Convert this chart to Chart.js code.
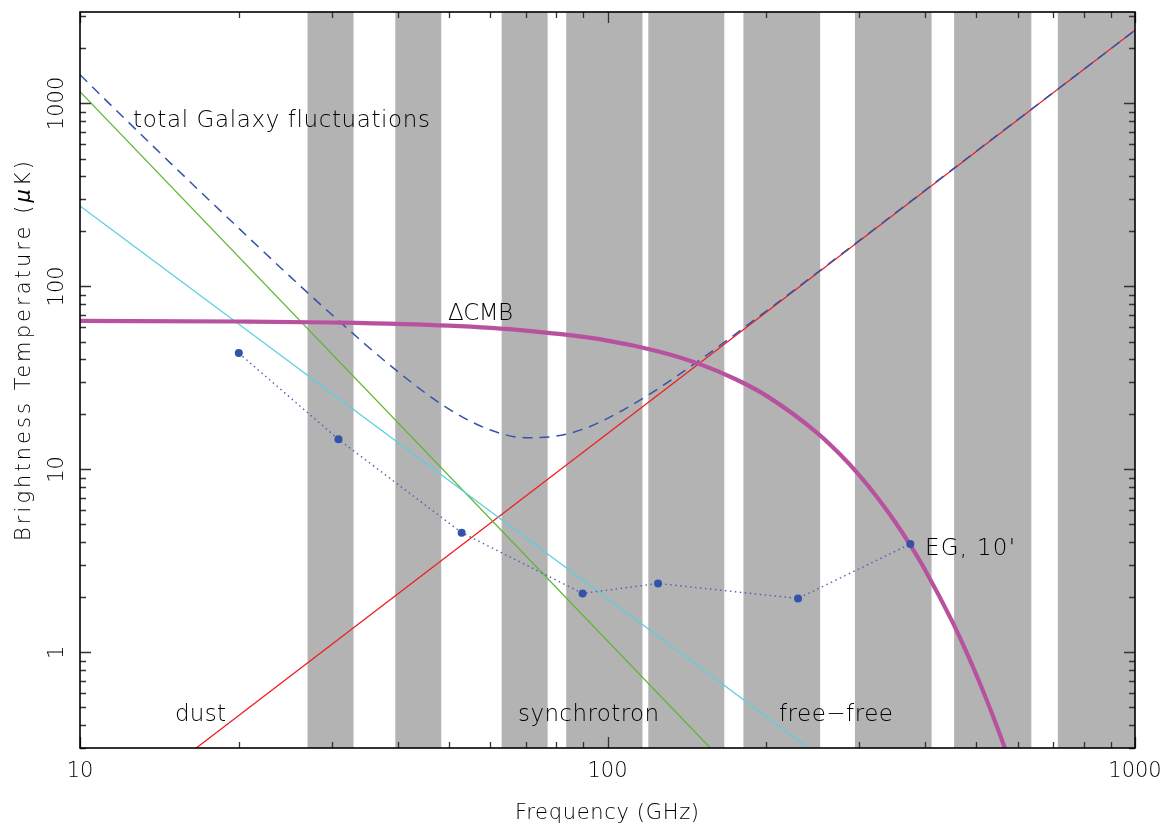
<!DOCTYPE html>
<html><head><meta charset="utf-8">
<script src="https://cdn.jsdelivr.net/npm/chart.js@4.4.0/dist/chart.umd.min.js"></script>
<style>html,body{margin:0;padding:0;background:#fff;overflow:hidden}</style>
</head><body>
<canvas id="c" width="1169" height="825"></canvas>
<script>
// ---- Frequency bands (GHz), shaded in grey ----
const bandLow  = [27, 39.6, 63, 83.5, 119.5, 181, 294.5, 454, 714];
const bandHigh = [33, 48.4, 77, 116.5, 166.5, 253, 411.5, 636, 1000];

// ---- Foreground components (GHz, brightness temperature in uK) ----
const dustFreq = [10, 1000];
const dustT    = [0.098, 2512];
const syncFreq = [10, 1000];
const syncT    = [1160, 0.00115];
const ffFreq   = [10, 1000];
const ffT      = [275, 0.0141];

// ---- Total Galaxy fluctuations (dashed) ----
const totalFreq = [10, 12, 15, 20, 25, 30, 40, 50, 60, 70, 80, 90, 100, 120, 150, 200, 300, 500, 700, 1000];
const totalT    = [1435, 857, 459, 208, 113.5, 70.2, 34.3, 21.4, 16.4, 14.9, 15.2, 16.6, 19.0, 25.7, 39.8, 73.4, 178, 548, 1147, 2512];

// ---- Delta CMB ----
const cmbFreq = [10, 20, 30, 50, 70, 100, 125, 150, 175, 200, 250, 275, 300, 325, 350, 375, 400, 450, 475, 500, 525, 550, 570];
const cmbT    = [64.8, 64.3, 63.5, 61.0, 57.3, 50.6, 44.1, 37.5, 31.1, 25.3, 15.8, 12.2, 9.3, 7.0, 5.22, 3.85, 2.82, 1.48, 1.06, 0.757, 0.537, 0.379, 0.286];

// ---- Extragalactic sources, 10' (points, dotted) ----
const egFreq = [20, 30.9, 52.9, 89.7, 124.7, 229.7, 375];
const egT    = [43.2, 14.6, 4.51, 2.10, 2.38, 1.97, 3.91];

// ---- Axis ticks / labels ----
const xTickValues = [10, 100, 1000];
const xTickLabels = ['10', '100', '1000'];
const yTickValues = [1, 10, 100, 1000];
const yTickLabels = ['1', '10', '100', '1000'];
const xTitle = 'Frequency (GHz)';
const yTitleRuns = [['Brightness Temperature (', false], ['\u03BC', true], ['K)', false]];

const pts = (xs, ys) => xs.map((x, i) => ({x: x, y: ys[i]}));

const FAM = '"DejaVu Sans", "Liberation Sans", sans-serif';
const W = '200 ';

function drawText(ctx, text, x, y, size, targetW, align) {
  ctx.font = W + size + 'px ' + FAM;
  ctx.letterSpacing = '0px';
  if (targetW) {
    const w = ctx.measureText(text).width;
    const n = [...text].length;
    if (n > 1) ctx.letterSpacing = ((targetW - w) / (n - 1)).toFixed(2) + 'px';
  }
  ctx.textAlign = 'left';
  let w2 = targetW || ctx.measureText(text).width;
  let x0 = align === 'center' ? x - w2 / 2 : x;
  ctx.fillText(text, x0, y);
  ctx.letterSpacing = '0px';
}

function drawRuns(ctx, runs, cx, y, size, targetW) {
  let total = 0, nChars = 0;
  runs.forEach(([t, it]) => {
    ctx.font = (it ? 'italic ' : '') + W + size + 'px ' + FAM;
    ctx.letterSpacing = '0px';
    total += ctx.measureText(t).width;
    nChars += [...t].length;
  });
  const ls = (targetW - total) / (nChars - 1);
  let x = cx - targetW / 2;
  ctx.textAlign = 'left';
  runs.forEach(([t, it]) => {
    ctx.font = (it ? 'italic ' : '') + W + size + 'px ' + FAM;
    ctx.letterSpacing = ls.toFixed(2) + 'px';
    ctx.fillText(t, x, y);
    x += ctx.measureText(t).width;
  });
  ctx.letterSpacing = '0px';
}

const decor = {
  id: 'decor',
  beforeDatasetsDraw(chart) {
    const {ctx, chartArea: a, scales: {x}} = chart;
    ctx.save();
    ctx.fillStyle = '#b3b3b3';
    for (let i = 0; i < bandLow.length; i++) {
      const x0 = x.getPixelForValue(bandLow[i]);
      const x1 = x.getPixelForValue(bandHigh[i]);
      ctx.fillRect(x0, a.top, x1 - x0, a.bottom - a.top);
    }
    ctx.restore();
  },
  afterDatasetsDraw(chart) {
    const {ctx, chartArea: a, scales: {x, y}} = chart;
    ctx.save();
    ctx.strokeStyle = '#333';
    ctx.lineWidth = 1.3;
    const MAJ = 11, MIN = 6;
    ctx.beginPath();
    for (let e = 1; e <= 3; e++) {
      for (let k = 1; k <= 9; k++) {
        const v = k * Math.pow(10, e);
        if (v < 10 || v > 1000) continue;
        const px = Math.round(x.getPixelForValue(v)) + 0.5;
        const L = k === 1 ? MAJ : MIN;
        ctx.moveTo(px, a.bottom); ctx.lineTo(px, a.bottom - L);
        ctx.moveTo(px, a.top); ctx.lineTo(px, a.top + L);
      }
    }
    for (let e = -1; e <= 3; e++) {
      for (let k = 1; k <= 9; k++) {
        const v = k * Math.pow(10, e);
        if (v < y.min || v > y.max) continue;
        const py = Math.round(y.getPixelForValue(v)) + 0.5;
        const L = k === 1 ? MAJ : MIN;
        ctx.moveTo(a.left, py); ctx.lineTo(a.left + L, py);
        ctx.moveTo(a.right, py); ctx.lineTo(a.right - L, py);
      }
    }
    ctx.stroke();
    ctx.strokeStyle = '#000';
    ctx.lineWidth = 1.6;
    ctx.strokeRect(a.left, a.top, a.right - a.left, a.bottom - a.top);

    ctx.fillStyle = '#000';
    ctx.textBaseline = 'alphabetic';
    xTickValues.forEach((v, i) => {
      drawText(ctx, xTickLabels[i], x.getPixelForValue(v), 777, 21, 0, 'center');
    });
    yTickValues.forEach((v, i) => {
      ctx.save();
      ctx.translate(63, y.getPixelForValue(v));
      ctx.rotate(-Math.PI / 2);
      drawText(ctx, yTickLabels[i], 0, 0, 21, 0, 'center');
      ctx.restore();
    });
    drawText(ctx, xTitle, 607, 819, 21, 184, 'center');
    ctx.save();
    ctx.translate(30, 351);
    ctx.rotate(-Math.PI / 2);
    drawRuns(ctx, yTitleRuns, 0, 0, 21, 380);
    ctx.restore();
    drawText(ctx, 'total Galaxy fluctuations', 133, 127, 23, 297);
    drawText(ctx, '\u0394CMB', 448, 320, 23, 65);
    drawText(ctx, "EG, 10'", 925, 555, 23, 90);
    drawText(ctx, 'dust', 175, 721, 23, 51);
    drawText(ctx, 'synchrotron', 518, 721, 23, 141);
    drawText(ctx, 'free\u2212free', 779, 721, 23, 114);
    ctx.restore();
  }
};

const lineBase = {type: 'line', pointRadius: 0, tension: 0, fill: false, borderCapStyle: 'butt'};

new Chart(document.getElementById('c'), {
  data: {
    datasets: [
      Object.assign({}, lineBase, {label: 'EG, 10\'', data: pts(egFreq, egT), borderColor: '#4a63b0', borderWidth: 1.4,
        borderDash: [1.5, 3.5], pointRadius: 4, pointBackgroundColor: '#3452a8', pointBorderWidth: 0, order: 0}),
      Object.assign({}, lineBase, {label: 'CMB', data: pts(cmbFreq, cmbT), borderColor: '#b8529f', borderWidth: 4.2,
        cubicInterpolationMode: 'monotone', order: 1}),
      Object.assign({}, lineBase, {label: 'total', data: pts(totalFreq, totalT), borderColor: '#3452a8', borderWidth: 1.5,
        borderDash: [10, 7], cubicInterpolationMode: 'monotone', order: 2}),
      Object.assign({}, lineBase, {label: 'free-free', data: pts(ffFreq, ffT), borderColor: '#5ccfe0', borderWidth: 1.3, order: 3}),
      Object.assign({}, lineBase, {label: 'synchrotron', data: pts(syncFreq, syncT), borderColor: '#5db631', borderWidth: 1.3, order: 4}),
      Object.assign({}, lineBase, {label: 'dust', data: pts(dustFreq, dustT), borderColor: '#f01e1e', borderWidth: 1.3, order: 5})
    ]
  },
  options: {
    responsive: false,
    animation: false,
    devicePixelRatio: 1,
    layout: {padding: {left: 80, right: 34, top: 12, bottom: 77}},
    plugins: {legend: {display: false}, tooltip: {enabled: false}},
    scales: {
      x: {type: 'logarithmic', min: 10, max: 1000, display: false},
      y: {type: 'logarithmic', min: 0.31623, max: 3162.3, display: false}
    }
  },
  plugins: [decor]
});
</script>
</body></html>
